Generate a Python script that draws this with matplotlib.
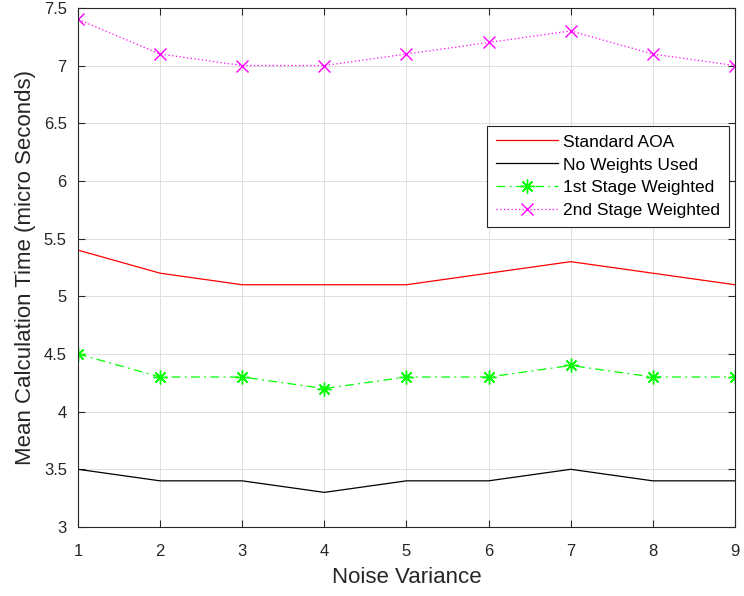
import matplotlib.pyplot as plt
import numpy as np
import matplotlib as mpl

mpl.rcParams['font.family'] = ['Liberation Sans', 'DejaVu Sans']
mpl.rcParams['font.size'] = 12

noise_variance = [1, 2, 3, 4, 5, 6, 7, 8, 9]
standard_aoa = [5.4, 5.2, 5.1, 5.1, 5.1, 5.2, 5.3, 5.2, 5.1]
no_weights = [3.5, 3.4, 3.4, 3.3, 3.4, 3.4, 3.5, 3.4, 3.4]
stage1_weighted = [4.5, 4.3, 4.3, 4.2, 4.3, 4.3, 4.4, 4.3, 4.3]
stage2_weighted = [7.4, 7.1, 7.0, 7.0, 7.1, 7.2, 7.3, 7.1, 7.0]

fig = plt.figure(figsize=(7.44, 5.96), dpi=100)
ax = fig.add_axes([0.1048, 0.1158, 0.883, 0.871])

ax.plot(noise_variance, standard_aoa, color='#ff0000', lw=0.9, label='Standard AOA')
ax.plot(noise_variance, no_weights, color='black', lw=0.9, label='No Weights Used')
ax.plot(noise_variance, stage1_weighted, color='#00ff00', lw=0.9, ls=(0, (7, 3.5, 1.5, 3.5)),
        marker=(8, 2, 0), markersize=10, markeredgewidth=1.0, label='1st Stage Weighted')
ax.plot(noise_variance, stage2_weighted, color='#ff00ff', lw=0.9, ls=(0, (1, 2)),
        marker='x', markersize=8, markeredgewidth=1.0, label='2nd Stage Weighted')

ax.set_xlim(1, 9)
ax.set_ylim(3, 7.5)
ax.set_xticks(noise_variance)
yt = np.arange(3, 7.51, 0.5)
ax.set_yticks(yt)
ax.set_yticklabels([f'{v:g}' for v in yt])
ax.grid(True, color='#e0e0e0', lw=0.7)
ax.tick_params(direction='in', top=True, right=True, labelsize=12, colors='#262626', length=5)
ax.tick_params(axis='x', pad=12)
ax.tick_params(axis='y', pad=8)
for s in ax.spines.values():
    s.set_color('#262626')
    s.set_linewidth(0.8)

ax.set_xlabel('Noise Variance', fontsize=16, color='#262626', labelpad=6)
ax.set_ylabel('Mean Calculation Time (micro Seconds)', fontsize=16, color='#262626', labelpad=6)

leg = ax.legend(loc='upper right', bbox_to_anchor=(0.991, 0.773), borderaxespad=0,
                fontsize=12.5, fancybox=False, edgecolor='#262626', framealpha=1,
                handlelength=3.6, borderpad=0.5, labelspacing=0.45, handletextpad=0.3)
leg.get_frame().set_linewidth(0.8)

fig.savefig('out.png', dpi=100)
